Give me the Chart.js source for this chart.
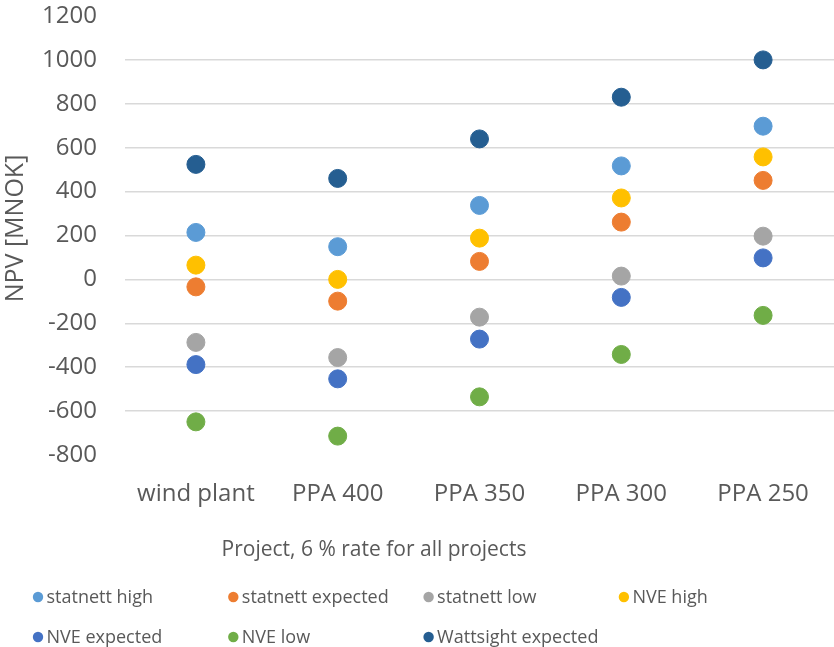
<!DOCTYPE html>
<html>
<head>
<meta charset="utf-8">
<script src="https://cdn.jsdelivr.net/npm/chart.js@4/dist/chart.umd.min.js"></script>
<style>
  html, body { margin: 0; padding: 0; background: #ffffff; }
  #wrap { width: 834px; height: 647px; }
</style>
</head>
<body>
<div id="wrap"><canvas id="npv" width="834" height="647"></canvas></div>
<script>
// Projects on the x axis
const categories = ['wind plant', 'PPA 400', 'PPA 350', 'PPA 300', 'PPA 250'];

// NPV [MNOK] per price scenario
const statnettHigh      = [214, 149, 337, 517, 698];
const statnettExpected  = [-34, -99, 82, 261, 451];
const statnettLow       = [-287, -356, -172, 15, 197];
const nveHigh           = [65, 0, 188, 371, 558];
const nveExpected       = [-388, -453, -272, -82, 98];
const nveLow            = [-649, -714, -535, -342, -164];
const wattsightExpected = [524, 460, 640, 830, 1000];

const seriesNames = ['statnett high', 'statnett expected', 'statnett low', 'NVE high',
                     'NVE expected', 'NVE low', 'Wattsight expected'];
const seriesValues = [statnettHigh, statnettExpected, statnettLow, nveHigh,
                      nveExpected, nveLow, wattsightExpected];
const seriesColors = ['#5B9BD5', '#ED7D31', '#A5A5A5', '#FFC000',
                      '#4472C4', '#70AD47', '#255E91'];

// y axis range and step
const yMin = -800, yMax = 1200, yStep = 200;

const xTitle = 'Project, 6 % rate for all projects';
const yTitle = 'NPV [MNOK]';

const FONT = "'Open Sans', 'Noto Sans', sans-serif";
const TEXT = '#595959';

// Axis titles drawn in the reserved margins
const axisTitles = {
  id: 'axisTitles',
  afterDraw(chart) {
    const ctx = chart.ctx;
    const a = chart.chartArea;
    ctx.save();
    ctx.fillStyle = TEXT;
    ctx.textBaseline = 'middle';
    ctx.textAlign = 'center';
    ctx.font = '21px ' + FONT;
    ctx.fillText(xTitle, 374, a.bottom + 95);
    ctx.translate(16, (a.top + a.bottom) / 2 - 7);
    ctx.rotate(-Math.PI / 2);
    ctx.font = '25px ' + FONT;
    ctx.fillText(yTitle, 0, 0);
    ctx.restore();
  }
};

// Legend in a fixed four-column grid below the axis title
const gridLegend = {
  id: 'gridLegend',
  afterDraw(chart) {
    const ctx = chart.ctx;
    const cols = 4, colW = 195.3, x0 = 38, y0 = 597, rowH = 40;
    ctx.save();
    ctx.font = '18px ' + FONT;
    ctx.textBaseline = 'middle';
    ctx.textAlign = 'left';
    chart.data.datasets.forEach((ds, i) => {
      const cx = x0 + (i % cols) * colW;
      const cy = y0 + Math.floor(i / cols) * rowH;
      ctx.fillStyle = ds.backgroundColor;
      ctx.beginPath();
      ctx.arc(cx, cy, 5.2, 0, Math.PI * 2);
      ctx.fill();
      ctx.fillStyle = TEXT;
      ctx.fillText(ds.label, cx + 8.5, cy + 1);
    });
    ctx.restore();
  }
};

new Chart(document.getElementById('npv'), {
  type: 'line',
  data: {
    labels: categories,
    datasets: seriesNames.map((name, i) => ({
      label: name,
      data: seriesValues[i],
      showLine: false,
      backgroundColor: seriesColors[i],
      borderColor: seriesColors[i],
      pointBackgroundColor: seriesColors[i],
      pointBorderColor: seriesColors[i],
      pointBorderWidth: 1,
      pointRadius: 9,
      pointHoverRadius: 9
    }))
  },
  options: {
    responsive: false,
    animation: false,
    layout: { autoPadding: false, padding: { top: 16, right: 0, bottom: 0, left: 0 } },
    plugins: {
      legend: { display: false },
      tooltip: { enabled: false },
      title: { display: false }
    },
    scales: {
      x: {
        type: 'category',
        offset: true,
        grid: { display: false, drawTicks: false },
        border: { display: false },
        ticks: {
          color: TEXT,
          font: { family: FONT, size: 24 },
          padding: 25,
          maxRotation: 0,
          autoSkip: false
        },
        afterFit(scale) {
          scale.height = 192;
          scale.paddingLeft = 0;
          scale.paddingRight = 0;
        }
      },
      y: {
        min: yMin,
        max: yMax,
        grid: {
          drawTicks: false,
          lineWidth: 1.5,
          color: (c) => (c.tick && (c.tick.value === yMin || c.tick.value === yMax))
            ? 'rgba(0,0,0,0)' : '#D9D9D9'
        },
        border: { display: false },
        ticks: {
          stepSize: yStep,
          color: TEXT,
          font: { family: FONT, size: 24 },
          padding: 28,
          callback: (v) => String(v)
        },
        afterFit(scale) {
          scale.width = 125;
          scale.paddingTop = 0;
          scale.paddingBottom = 0;
        }
      }
    }
  },
  plugins: [axisTitles, gridLegend]
});
</script>
</body>
</html>
